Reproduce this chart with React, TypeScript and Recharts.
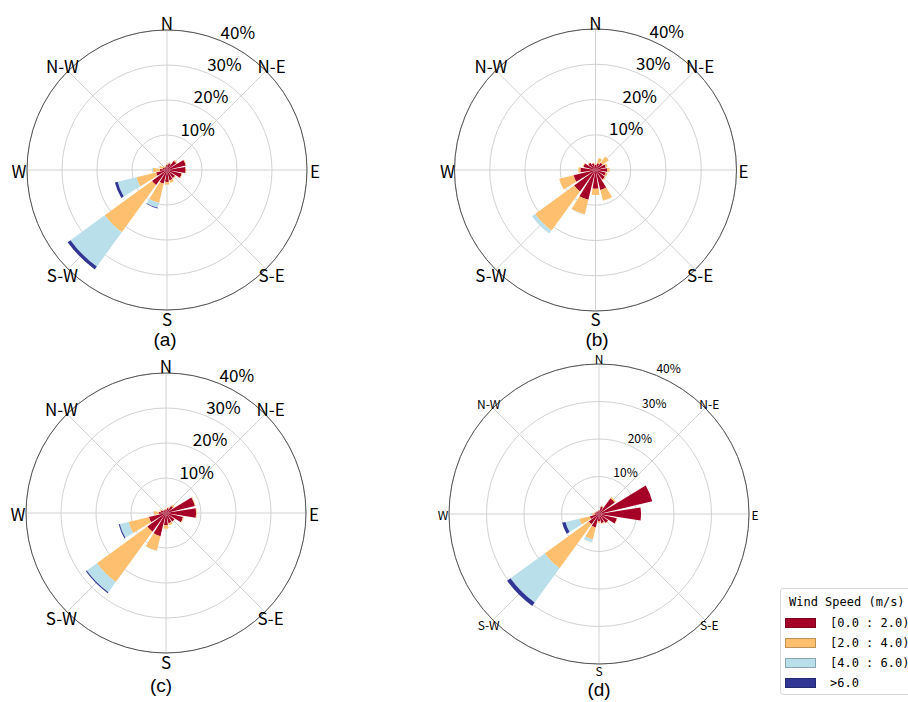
import { RadialBarChart, RadialBar, PolarAngleAxis, PolarRadiusAxis, PolarGrid } from 'recharts'

// 16 compass sectors, clockwise from north
const directions = ['N', 'NNE', 'N-E', 'ENE', 'E', 'ESE', 'S-E', 'SSE', 'S', 'SSW', 'S-W', 'WSW', 'W', 'WNW', 'N-W', 'NNW']
const speedBins = ['[0.0 : 2.0)', '[2.0 : 4.0)', '[4.0 : 6.0)', '>6.0']
const binColors = ['#a50026', '#fec06f', '#b9dfeb', '#313695']
const captions = ['(a)', '(b)', '(c)', '(d)']

// (a) frequency in %, per speed bin
const a0 = [1.5, 2.0, 3.3, 5.5, 5.3, 4.3, 2.8, 3.0, 3.4, 4.0, 5.3, 3.2, 2.0, 1.3, 1.0, 1.0]
const a1 = [0.3, 0.3, 0.3, 0.2, 0.2, 0.2, 0.3, 0.8, 0.8, 5.7, 16.7, 5.8, 2.0, 1.0, 0.5, 0.3]
const a2 = [0, 0, 0, 0, 0, 0, 0, 0, 0.1, 1.4, 12.1, 5.5, 0.3, 0.2, 0, 0]
const a3 = [0, 0, 0, 0, 0, 0, 0, 0, 0, 0.2, 1.0, 0.8, 0, 0, 0, 0]

// (b)
const b0 = [1.5, 2.0, 2.5, 3.0, 3.3, 3.0, 3.3, 5.8, 5.3, 8.7, 7.5, 6.4, 4.3, 3.5, 2.5, 2.0]
const b1 = [0.3, 1.5, 2.2, 0.5, 0.7, 0.5, 0.3, 3.2, 1.8, 4.3, 13.7, 4.2, 0.6, 0.2, 0.2, 0.2]
const b2 = [0, 0, 0, 0, 0, 0, 0, 0, 0, 0.1, 1.1, 0, 0, 0, 0, 0]
const b3 = [0, 0, 0, 0, 0, 0, 0, 0, 0, 0, 0, 0, 0, 0, 0, 0]

// (c)
const c0 = [1.0, 1.5, 2.5, 8.5, 8.6, 5.0, 3.0, 3.0, 3.5, 6.8, 6.6, 5.0, 2.0, 1.5, 1.0, 1.0]
const c1 = [0.2, 0.3, 0.5, 0.2, 0.2, 0.2, 0.2, 0.6, 1.0, 4.3, 17.8, 6.0, 1.5, 0.5, 0.2, 0.2]
const c2 = [0, 0, 0, 0, 0, 0, 0, 0, 0, 0.1, 3.6, 2.6, 0.1, 0, 0, 0]
const c3 = [0, 0, 0, 0, 0, 0, 0, 0, 0, 0, 0.3, 0.3, 0, 0, 0, 0]

// (d)
const d0 = [1.0, 2.0, 5.2, 14.6, 11.2, 4.9, 3.0, 2.5, 2.0, 3.7, 3.4, 2.5, 1.2, 1.0, 0.8, 0.8]
const d1 = [0.1, 0.3, 0.4, 0, 0, 0.1, 0.1, 0.2, 0.4, 3.3, 14.5, 2.9, 0.6, 0.3, 0.1, 0.1]
const d2 = [0, 0, 0, 0, 0, 0, 0, 0, 0.1, 0.8, 11.3, 3.8, 0.5, 0, 0, 0]
const d3 = [0, 0, 0, 0, 0, 0, 0, 0, 0, 0, 1.1, 0.9, 0, 0, 0, 0]

const buildRows = (bins: number[][]) =>
  directions.map((dir, i) => ({ dir, b0: bins[0][i], b1: bins[1][i], b2: bins[2][i], b3: bins[3][i] }))

const sector = 360 / directions.length
// only the 8 main directions get a spoke (recharts angle = 90 - bearing)
const spokes = directions.filter((_, i) => i % 2 === 0).map((_, k) => 90 - k * 45)

const labelFont = '"Noto Sans CJK SC", "Noto Sans", sans-serif'

function Rose({ rows, left, top, cx, cy, r, dirSize, pctSize, gap }: any) {
  // recharts puts each sector band after its tick, so start half a sector early
  // to centre the bars on their bearing; the labels get turned back by the same amount
  const start = 90 - sector / 2
  return (
    <div style={{ position: 'absolute', left, top }}>
      <RadialBarChart
        width={340}
        height={340}
        cx={cx}
        cy={cy}
        innerRadius={0}
        outerRadius={r}
        startAngle={start}
        endAngle={start - 360}
        data={rows}
        layout="centric"
        barCategoryGap="10%"
        margin={{ top: 0, right: 0, bottom: 0, left: 0 }}
      >
        {speedBins.map((name, k) => (
          <RadialBar
            key={name}
            dataKey={`b${k}`}
            name={name}
            stackId="w"
            fill={binColors[k]}
            isAnimationActive={false}
          />
        ))}
        <PolarGrid gridType="circle" polarAngles={spokes} stroke="#d2d2d2" strokeWidth={1} />
        <PolarAngleAxis
          type="category"
          dataKey="dir"
          axisLineType="circle"
          axisLine={{ stroke: '#555', strokeWidth: 1 }}
          tickLine={false}
          tickSize={gap}
          tick={(p: any) => {
            if (directions.indexOf(p.payload.value) % 2 !== 0) return <g />
            const dx = p.x - cx
            const dy = p.y - cy
            const rho = Math.hypot(dx, dy)
            const bearing = Math.atan2(dx, -dy) - (sector / 2) * (Math.PI / 180)
            return (
              <text
                x={cx + rho * Math.sin(bearing)}
                y={cy - rho * Math.cos(bearing)}
                textAnchor="middle"
                dominantBaseline="central"
                fontSize={dirSize}
                fontFamily={labelFont}
                fill="#000"
              >
                {p.payload.value}
              </text>
            )
          }}
        />
        <PolarRadiusAxis
          type="number"
          domain={[0, 40]}
          tickCount={5}
          angle={67.5}
          axisLine={false}
          tickLine={false}
          tick={(p: any) => {
            if (p.payload.value === 0) return <g />
            return (
              <text x={p.x} y={p.y - 2} textAnchor="start" fontSize={pctSize} fontFamily={labelFont} fill="#000">
                {p.payload.value}%
              </text>
            )
          }}
        />
      </RadialBarChart>
    </div>
  )
}

const roses = [
  { rows: buildRows([a0, a1, a2, a3]), left: 0, top: 0, cx: 167, cy: 170, r: 140, dirSize: 17, pctSize: 17, gap: 8, capX: 165, capY: 340 },
  { rows: buildRows([b0, b1, b2, b3]), left: 430, top: 0, cx: 165.5, cy: 170, r: 141, dirSize: 17, pctSize: 17, gap: 7, capX: 597, capY: 340 },
  { rows: buildRows([c0, c1, c2, c3]), left: 0, top: 343, cx: 166, cy: 170, r: 140, dirSize: 17, pctSize: 17, gap: 8, capX: 161, capY: 686 },
  { rows: buildRows([d0, d1, d2, d3]), left: 430, top: 344, cx: 169, cy: 170, r: 150, dirSize: 12, pctSize: 12, gap: 6, capX: 599, capY: 690 },
]

export default function App() {
  return (
    <div style={{ position: 'absolute', left: 0, top: 0, width: 908, height: 702, overflow: 'hidden', background: '#fff' }}>
      {roses.map((rs, i) => (
        <div key={captions[i]}>
          <Rose {...rs} />
          <div
            style={{
              position: 'absolute',
              left: rs.capX - 30,
              top: rs.capY - 8,
              width: 60,
              textAlign: 'center',
              fontSize: 19,
              lineHeight: '16px',
              fontFamily: '"Liberation Sans", Arial, sans-serif',
            }}
          >
            {captions[i]}
          </div>
        </div>
      ))}

      <div
        style={{
          position: 'absolute',
          left: 780,
          top: 588,
          width: 140,
          height: 107,
          border: '1px solid #d8d8d8',
          borderRadius: 3,
          fontFamily: '"DejaVu Sans Mono", monospace',
          fontSize: 12,
          boxSizing: 'border-box',
        }}
      >
        <div style={{ position: 'absolute', left: 8, top: 6, whiteSpace: 'pre' }}>Wind Speed (m/s)</div>
        {speedBins.map((name, k) => (
          <div key={name} style={{ position: 'absolute', left: 4, top: 27 + k * 20, height: 14, display: 'flex', alignItems: 'center' }}>
            <span
              style={{
                display: 'inline-block',
                width: 31,
                height: 10,
                background: binColors[k],
                border: '1px solid rgba(0,0,0,0.25)',
                boxSizing: 'border-box',
              }}
            />
            <span style={{ marginLeft: 14, whiteSpace: 'pre' }}>{name}</span>
          </div>
        ))}
      </div>
    </div>
  )
}
